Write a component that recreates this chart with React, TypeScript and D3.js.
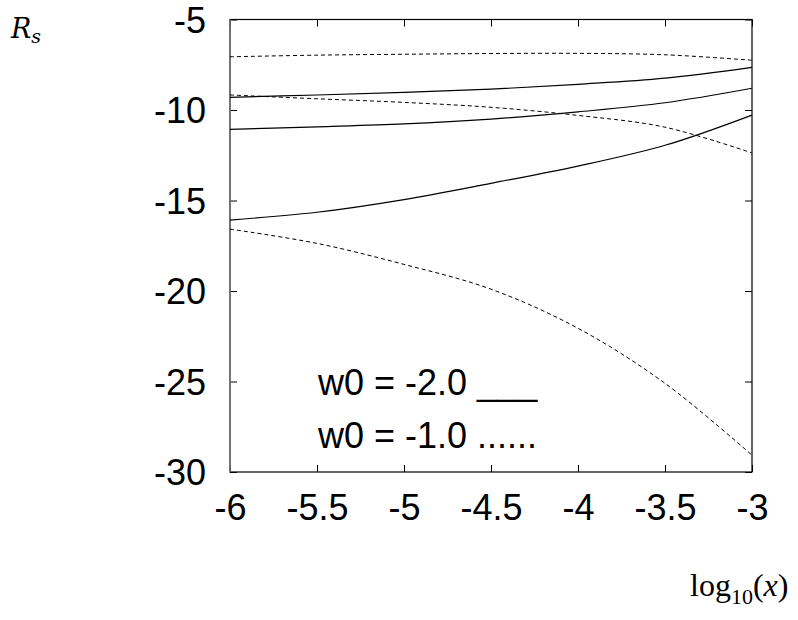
import { useEffect, useRef } from "react";
import * as d3 from "d3";

// log10(x) sample positions
const xValues = [-6, -5.5, -5, -4.5, -4, -3.5, -3];

// w0 = -2.0 (solid)
const solidUpper = [-9.3, -9.17, -9.03, -8.85, -8.58, -8.24, -7.64];
const solidMiddle = [-11.07, -10.93, -10.77, -10.5, -10.1, -9.6, -8.8];
const solidLower = [-16.08, -15.65, -14.95, -14.05, -13.1, -11.95, -10.28];

// w0 = -1.0 (dashed)
const dashedUpper = [-7.06, -6.97, -6.92, -6.88, -6.87, -6.95, -7.25];
const dashedMiddle = [-9.17, -9.38, -9.58, -9.85, -10.3, -10.95, -12.37];
const dashedLower = [-16.58, -17.37, -18.53, -19.9, -22.06, -25.1, -29.07];

const xTicks = [-6, -5.5, -5, -4.5, -4, -3.5, -3];
const yTicks = [-5, -10, -15, -20, -25, -30];

const legendLines = ["w0 = -2.0 ___", "w0 = -1.0 ......"];

export default function App() {
  const svgRef = useRef<SVGSVGElement | null>(null);

  useEffect(() => {
    if (!svgRef.current) return;
    const svg = d3.select(svgRef.current);
    svg.selectAll("*").remove();

    const width = 798;
    const height = 620;
    const margin = { top: 19.5, right: 46, bottom: 148, left: 230 };
    const innerW = width - margin.left - margin.right;
    const innerH = height - margin.top - margin.bottom;
    const font = "'Liberation Sans', Arial, Helvetica, sans-serif";

    const x = d3.scaleLinear().domain([-6, -3]).range([0, innerW]);
    const y = d3.scaleLinear().domain([-30, -5]).range([innerH, 0]);

    const root = svg
      .append("g")
      .attr("transform", `translate(${margin.left},${margin.top})`);

    const styleAxis = (g: d3.Selection<SVGGElement, unknown, null, undefined>) => {
      g.select(".domain").remove();
      g.selectAll("line").attr("stroke", "#000").attr("stroke-width", 1);
      g.selectAll("text")
        .attr("fill", "#000")
        .style("font-family", font)
        .style("font-size", "36px");
    };

    // bottom axis with labels
    root
      .append("g")
      .attr("transform", `translate(0,${innerH})`)
      .call(
        d3
          .axisBottom(x)
          .tickValues(xTicks)
          .tickSizeInner(-7)
          .tickSizeOuter(0)
          .tickPadding(22)
          .tickFormat((d) => String(d)),
      )
      .call(styleAxis);

    // top ticks only
    root
      .append("g")
      .call(d3.axisTop(x).tickValues(xTicks).tickSizeInner(-7).tickSizeOuter(0).tickFormat(() => ""))
      .call(styleAxis);

    // left axis with labels
    root
      .append("g")
      .call(
        d3
          .axisLeft(y)
          .tickValues(yTicks)
          .tickSizeInner(-7)
          .tickSizeOuter(0)
          .tickPadding(24)
          .tickFormat((d) => String(d)),
      )
      .call(styleAxis)
      .call((g) => g.selectAll("text").attr("dy", "0.36em"));

    // right ticks only
    root
      .append("g")
      .attr("transform", `translate(${innerW},0)`)
      .call(d3.axisRight(y).tickValues(yTicks).tickSizeInner(-7).tickSizeOuter(0).tickFormat(() => ""))
      .call(styleAxis);

    // frame
    root
      .append("rect")
      .attr("x", 0)
      .attr("y", 0)
      .attr("width", innerW)
      .attr("height", innerH)
      .attr("fill", "none")
      .attr("stroke", "#000")
      .attr("stroke-width", 1.2);
    root
      .append("line")
      .attr("x1", 0)
      .attr("x2", 0)
      .attr("y1", 0)
      .attr("y2", innerH)
      .attr("stroke", "#777")
      .attr("stroke-width", 1.6);

    const line = d3
      .line<number>()
      .x((_, i) => x(xValues[i]))
      .y((d) => y(d))
      .curve(d3.curveCatmullRom.alpha(0.5));

    const solids = [solidUpper, solidMiddle, solidLower];
    const dashes = [dashedUpper, dashedMiddle, dashedLower];

    root
      .selectAll("path.solid")
      .data(solids)
      .join("path")
      .attr("class", "solid")
      .attr("d", (d) => line(d))
      .attr("fill", "none")
      .attr("stroke", "#000")
      .attr("stroke-width", 1.2);

    root
      .selectAll("path.dashed")
      .data(dashes)
      .join("path")
      .attr("class", "dashed")
      .attr("d", (d) => line(d))
      .attr("fill", "none")
      .attr("stroke", "#000")
      .attr("stroke-width", 1)
      .attr("stroke-dasharray", "4,3");

    // legend text
    root
      .selectAll("text.legend")
      .data(legendLines)
      .join("text")
      .attr("class", "legend")
      .attr("x", 318 - margin.left)
      .attr("y", (_, i) => 395 - margin.top + i * 53)
      .attr("fill", "#000")
      .style("font-family", font)
      .style("font-size", "36px")
      .text((d) => d);

    // y label R_s
    const yLabel = svg
      .append("text")
      .attr("x", 11)
      .attr("y", 38)
      .style("font-family", "'DejaVu Serif', 'Liberation Serif', serif")
      .style("font-size", "27px")
      .style("font-style", "italic");
    yLabel.append("tspan").text("R");
    yLabel
      .append("tspan")
      .attr("dy", 5)
      .style("font-size", "19px")
      .text("s");

    // x label log10(x)
    const xLabel = svg
      .append("text")
      .attr("x", 690)
      .attr("y", 596)
      .style("font-family", "'Liberation Serif', 'DejaVu Serif', serif")
      .style("font-size", "32px");
    xLabel.append("tspan").text("log");
    xLabel.append("tspan").attr("dy", 8).style("font-size", "22px").text("10");
    xLabel.append("tspan").attr("dy", -8).text("(");
    xLabel.append("tspan").style("font-style", "italic").text("x");
    xLabel.append("tspan").text(")");
  }, []);

  return (
    <svg
      ref={svgRef}
      width={798}
      height={620}
      viewBox="0 0 798 620"
      style={{ position: "absolute", left: 0, top: 0, background: "#fff" }}
    />
  );
}
